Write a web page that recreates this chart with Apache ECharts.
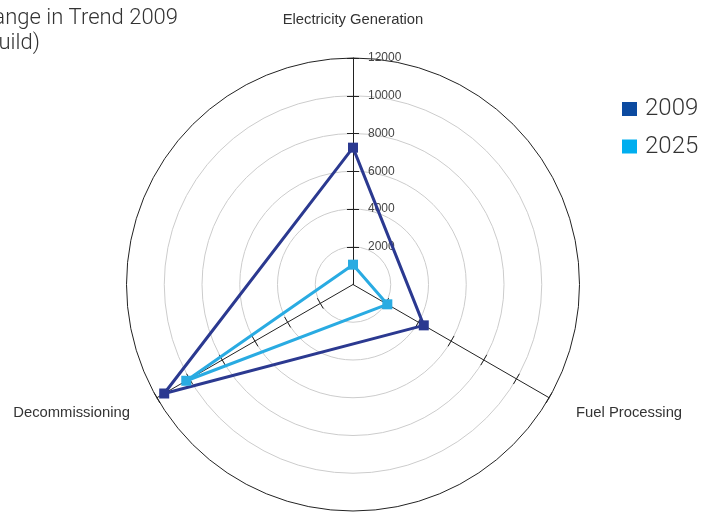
<!DOCTYPE html>
<html>
<head>
<meta charset="utf-8">
<script src="https://cdn.jsdelivr.net/npm/echarts@6/dist/echarts.min.js"></script>
<style>html,body{margin:0;padding:0;background:#fff}#c{width:701px;height:512px}</style>
</head>
<body>
<div id="c"></div>
<script>
var titleLine1 = 'Change in Trend 2009';
var titleLine2 = '(Build)';
var indicators = ['Electricity Generation', 'Decommissioning', 'Fuel Processing'];
var axisMax = 12000;
var tickValues = [2000, 4000, 6000, 8000, 10000, 12000];
var seriesNames = ['2009', '2025'];
var values2009 = [7250, 11550, 4330];
var values2025 = [1050, 10200, 2100];

var chart = echarts.init(document.getElementById('c'));
var ringColors = ['#cccccc','#cccccc','#cccccc','#cccccc','#cccccc','#222222'];
var tickLen = 6;
var startAngle = 90;
function makeIndicators() {
  var n = indicators.length;
  return indicators.map(function (name, i) {
    // mirror each tick to the other side of its axis with a hard shadow
    var theta = (startAngle + i * 360 / n) * Math.PI / 180;
    var dirX = -Math.sin(theta), dirY = -Math.cos(theta); // screen dir of tick side
    var o = {
      name: name, max: axisMax, min: 0,
      axisTick: { lineStyle: { shadowColor: '#222', shadowBlur: 0.01,
        shadowOffsetX: -tickLen * dirX, shadowOffsetY: -tickLen * dirY } }
    };
    if (i === 0) {
      o.axisLabel = { show: true };
    }
    return o;
  });
}
var titleStyle = { fontFamily: 'Roboto', fontWeight: 300, fontSize: 22, color: '#333' };
chart.setOption({
  animation: false,
  title: [
    { text: titleLine1, left: -38, top: 2, textStyle: titleStyle },
    { text: titleLine2, left: -27, top: 27, textStyle: titleStyle }
  ],
  legend: {
    orient: 'vertical',
    left: 617,
    top: 92,
    itemWidth: 15,
    itemHeight: 14,
    itemGap: 13.5,
    icon: 'rect',
    textStyle: { fontFamily: 'Roboto', fontWeight: 300, fontSize: 24, lineHeight: 24, color: '#333', padding: [0, 0, 0, 3] },
    data: [
      { name: seriesNames[0], itemStyle: { color: '#0c4aa0' } },
      { name: seriesNames[1], itemStyle: { color: '#00aeef' } }
    ]
  },
  radar: {
    center: [353, 284.5],
    radius: 226.5,
    startAngle: startAngle,
    splitNumber: 6,
    shape: 'circle',
    indicator: makeIndicators(),
    axisName: { color: '#333', fontSize: 14.8, fontFamily: 'Liberation Sans' },
    nameGap: 31,
    axisLine: { lineStyle: { color: '#222', width: 1 } },
    axisTick: { show: true, length: tickLen, customValues: tickValues, lineStyle: { color: '#222', width: 1 } },
    axisLabel: { show: false, color: '#444', fontSize: 12, fontFamily: 'Liberation Sans', margin: -15, align: 'left',
      formatter: function (v) { return v === 0 ? '' : String(v); } },
    splitLine: { lineStyle: { color: ringColors, width: 1 } },
    splitArea: { show: false }
  },
  series: [
    {
      type: 'radar',
      symbol: 'rect',
      symbolSize: 10,
      data: [
        { name: seriesNames[1], value: values2025,
          lineStyle: { color: '#29abe2', width: 3 }, itemStyle: { color: '#29abe2' } },
        { name: seriesNames[0], value: values2009,
          lineStyle: { color: '#2b3990', width: 3 }, itemStyle: { color: '#2b3990' } }
      ]
    }
  ]
});
</script>
</body>
</html>
